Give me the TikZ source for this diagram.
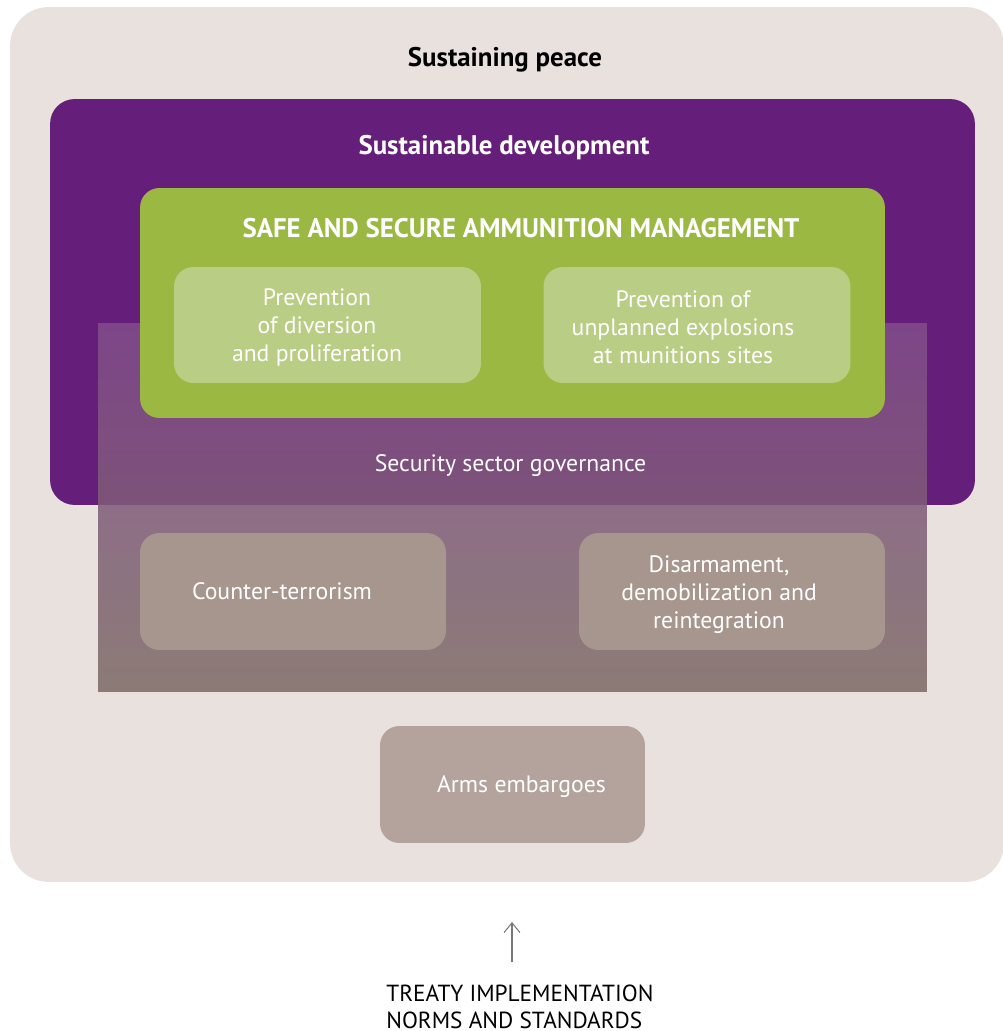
\documentclass[tikz,border=0pt]{standalone}
\usepackage{fontspec}
\setmainfont{PT Sans}
\usetikzlibrary{arrows.meta, positioning}

\definecolor{peacebg}{RGB}{232,225,222}
\definecolor{devpurple}{RGB}{101,30,121}
\definecolor{ssgtop}{RGB}{131,77,140}
\definecolor{ssgmid}{RGB}{138,102,132}
\definecolor{ssgbot}{RGB}{124,107,101}
\definecolor{ammogreen}{RGB}{155,184,66}
\definecolor{ammolight}{RGB}{185,205,132}
\definecolor{ssgbox}{RGB}{166,150,141}
\definecolor{armsbox}{RGB}{179,163,156}
\definecolor{arrowgray}{RGB}{120,120,120}

\begin{document}
\begin{tikzpicture}[x=0.02cm, y=-0.02cm, font=\fontsize{13.5}{16}\selectfont]
\tikzstyle{box}=[rectangle, inner sep=0pt]
\tikzstyle{box text}=[inner sep=0pt, align=center, text=white]
\tikzstyle{inner box}=[box, rounded corners=11pt, minimum width=6.14cm, minimum height=2.32cm, fill=ammolight]
\tikzstyle{ssg box}=[box, rounded corners=11pt, minimum width=6.12cm, minimum height=2.34cm, fill=ssgbox]
\tikzstyle{title}=[font=\fontsize{15.3}{18}\selectfont\bfseries]

% Fix the size of the page
\useasboundingbox (0,0) rectangle (1003,1031);

% Draw the outer box for sustaining peace
\node[box, fill=peacebg, rounded corners=22pt, minimum width=19.88cm, minimum height=17.5cm] (peace) at (507,444.5) {};

% Draw the sustainable development box
\node[box, fill=devpurple, rounded corners=14pt, minimum width=18.5cm, minimum height=8.12cm] (dev) at (512.5,302) {};

% Draw the security sector governance layer on top of it
\node[box, top color=ssgtop, middle color=ssgmid, bottom color=ssgbot, fill opacity=0.86, minimum width=16.58cm, minimum height=7.38cm] (ssg) at (512.5,507.5) {};

% Draw the ammunition management box
\node[box, fill=ammogreen, rounded corners=11pt, minimum width=14.9cm, minimum height=4.6cm] (ammo) at (512.5,303) {};

% Draw the two prevention boxes
\foreach \name/\x/\dx/\txt in {div/327.5/-0.21/{Prevention\\of diversion\\and proliferation}, expl/697/-0.28/{Prevention of\\unplanned explosions\\at munitions sites}}
{
  \node[inner box] (P-\name) at (\x,325) {};
  \node[box text] (P-\name-text) at ([xshift=\dx cm, yshift=-0.05cm]P-\name) {\txt};
}

% Draw the boxes of the security sector
\node[ssg box] (cterror) at (293,591.5) {};
\node[box text] (cterror-text) at ([xshift=-0.22cm]cterror) {Counter-terrorism};
\node[ssg box] (ddr) at (732,591.5) {};
\node[box text] (ddr-text) at ([xshift=-0.26cm, yshift=-0.06cm]ddr) {Disarmament,\\demobilization and\\reintegration};

% Draw the arms embargoes box
\node[box, fill=armsbox, rounded corners=11pt, minimum width=5.3cm, minimum height=2.34cm] (arms) at (512.5,784.5) {};
\node[box text] (arms-text) at ([xshift=0.18cm, yshift=-0.04cm]arms) {Arms embargoes};

% Annotate the boxes
\node[title] (peace-label) at (505,60) {Sustaining peace};
\node[title, text=white] (dev-label) at (504,147.5) {Sustainable development};
\node[title, text=white] (ammo-label) at (521,228) {SAFE AND SECURE AMMUNITION MANAGEMENT};
\node[text=white] (ssg-label) at (510.5,466) {Security sector governance};

% Draw the treaty text and its arrow
\node[anchor=west, align=left, inner sep=0pt, font=\fontsize{13.25}{15}\selectfont] (treaty) at (386,1007) {TREATY IMPLEMENTATION\\NORMS AND STANDARDS};
\coordinate (arrow-start) at (512,962);
\coordinate (arrow-end) at (512,922);
\draw[arrowgray, line width=0.6pt, -{Straight Barb[length=5.5pt,width=9pt]}] (arrow-start) -- (arrow-end);

\end{tikzpicture}
\end{document}
